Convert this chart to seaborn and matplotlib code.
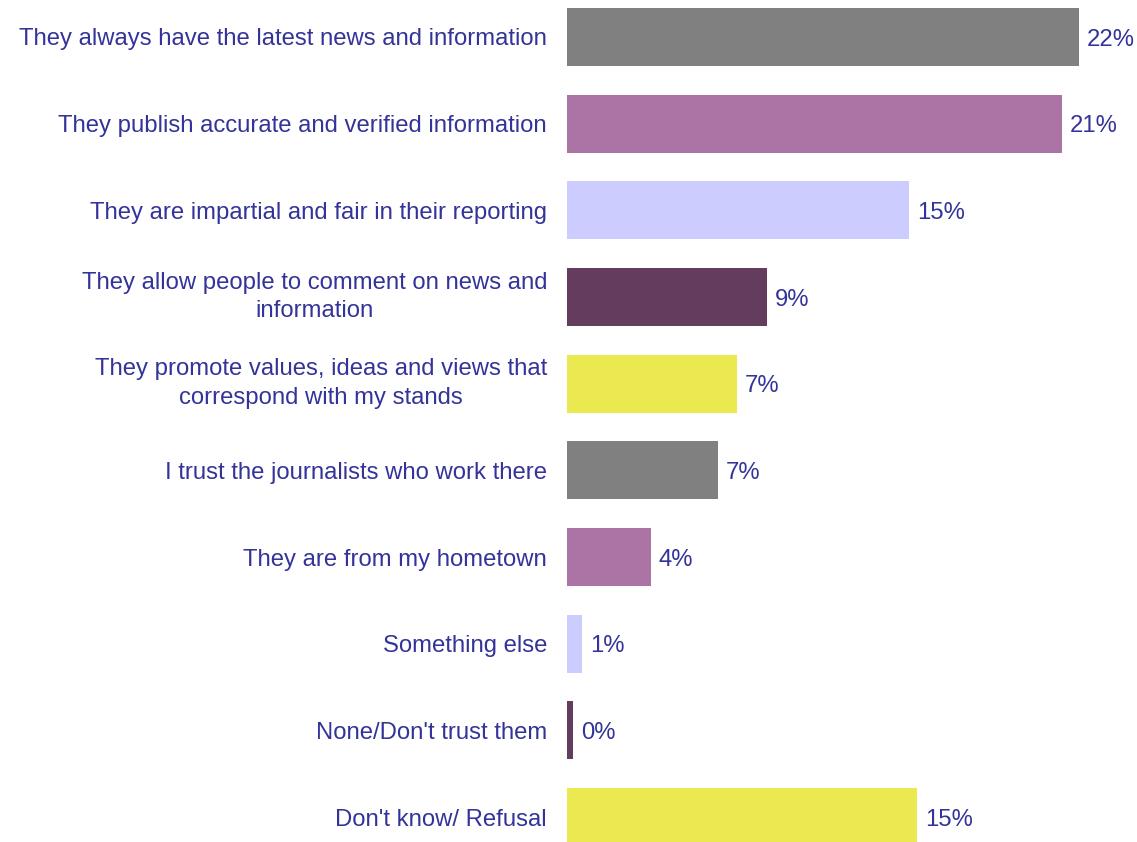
import matplotlib
matplotlib.use("Agg")
import matplotlib.pyplot as plt
import seaborn as sns
import pandas as pd

categories = [
    "They always have the latest news and information",
    "They publish accurate and verified information",
    "They are impartial and fair in their reporting",
    "They allow people to comment on news and\ninformation",
    "They promote values, ideas and views that\ncorrespond with my stands",
    "I trust the journalists who work there",
    "They are from my hometown",
    "Something else",
    "None/Don't trust them",
    "Don't know/ Refusal",
]
shares = [22.19, 21.45, 14.83, 8.66, 7.36, 6.54, 3.64, 0.69, 0.30, 15.19]
bar_colors = ["#808080", "#AB74A5", "#CCCCFF", "#643D5E", "#EAEA50",
              "#808080", "#AB74A5", "#CCCCFF", "#643D5E", "#EAEA50"]

text_color = "#333399"
font_size = 17.2
W, H, DPI = 1137, 842, 100

sns.set_theme(style="white")
plt.rcParams["font.family"] = ["Liberation Sans", "DejaVu Sans"]

df = pd.DataFrame({"reason": categories, "share": shares})

fig = plt.figure(figsize=(W / DPI, H / DPI), dpi=DPI)
left_px = 566.5
ax = fig.add_axes([left_px / W, 0, 1 - left_px / W, 1])

sns.barplot(data=df, y="reason", x="share", hue="reason", palette=bar_colors,
            order=categories, hue_order=categories, legend=False,
            width=0.67, orient="h", saturation=1, linewidth=0, ax=ax)

px_per_unit_x = 23.1
ax.set_xlim(0, (W - left_px) / px_per_unit_x)
row_px = 86.67
first_center = 37
ax.set_ylim((H - first_center) / row_px, -first_center / row_px)

for i, v in enumerate(shares):
    ax.text(v + 8 / px_per_unit_x, i, f"{round(v):d}%", va="center_baseline",
            ha="left", fontsize=font_size, color=text_color)

ax.set_xlabel("")
ax.set_ylabel("")
ax.set_xticks([])
ax.tick_params(axis="y", length=0, pad=14, labelsize=font_size, labelcolor=text_color)
for lbl in ax.get_yticklabels():
    lbl.set_multialignment("center")
    lbl.set_linespacing(1.4)
    if "\n" in lbl.get_text():
        lbl.set_y(lbl.get_position()[1])
        lbl.set_verticalalignment("center")
for s in ax.spines.values():
    s.set_visible(False)
ax.patch.set_alpha(0)

fig.savefig("out.png", dpi=DPI, facecolor="white")
